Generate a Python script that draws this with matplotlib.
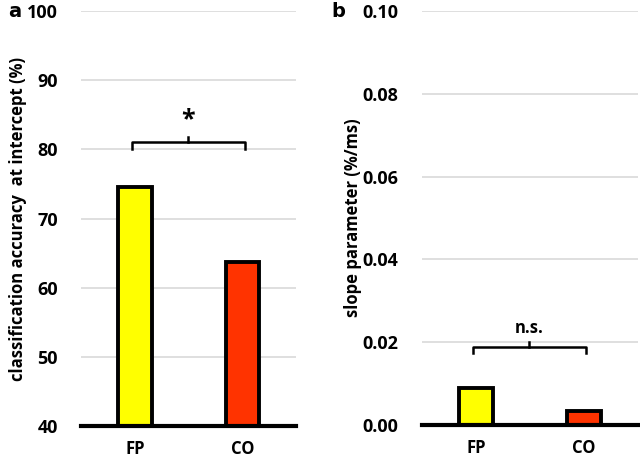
import numpy as np
import matplotlib.pyplot as plt

# datos
grupos = ['FP', 'CO']
colores = ['#FFFF00', '#FF3300']
precision = [74.5, 63.7]       # panel a (%)
pendiente = [0.0089, 0.0034]   # panel b (%/ms)

plt.rcParams['font.family'] = ['Open Sans', 'DejaVu Sans']
plt.rcParams['font.weight'] = 'bold'

fig = plt.figure(figsize=(6.4, 4.61), dpi=100)
ax1 = fig.add_axes([0.127, 0.076, 0.336, 0.9])
ax2 = fig.add_axes([0.659, 0.078, 0.338, 0.898])

x = np.arange(len(grupos))


def panel(ax, valores, ylim, ticks, fmt, ylabel, label_x, corchete_y, alto, texto, texto_size):
    ax.bar(x, np.array(valores) - ylim[0], bottom=ylim[0], width=0.31, color=colores,
           edgecolor='k', linewidth=2.8, zorder=3)
    ax.set_xlim(-0.5, 1.5)
    ax.set_ylim(*ylim)
    ax.set_yticks(ticks)
    ax.set_yticklabels([fmt.format(t) for t in ticks], fontsize=13, fontweight='bold')
    ax.set_xticks(x)
    ax.set_xticklabels(grupos, fontsize=12, fontweight='bold')
    ax.tick_params(length=0, axis='y', pad=17)
    ax.tick_params(length=0, axis='x', pad=10)
    ax.grid(axis='y', color='#d9d9d9', lw=1.2, zorder=0)
    for s in ['top', 'right', 'left']:
        ax.spines[s].set_visible(False)
    ax.spines['bottom'].set_linewidth(3)
    ax.spines['bottom'].set_zorder(4)
    ax.set_ylabel(ylabel, fontsize=12, fontweight='bold', va='center')
    ax.yaxis.set_label_coords(label_x, 0.5)
    # corchete de significancia
    x0, x1 = -0.03, 1.02
    xm = (x0 + x1) / 2
    ax.plot([x0, x0, x1, x1], [corchete_y - alto, corchete_y, corchete_y, corchete_y - alto],
            color='k', lw=1.8, zorder=5, clip_on=False)
    ax.plot([xm, xm], [corchete_y, corchete_y + alto * 0.9], color='k', lw=1.8, zorder=5)
    ax.text(xm, corchete_y + alto * 1.6, texto, ha='center', va='bottom',
            fontsize=texto_size, fontweight='bold')


panel(ax1, precision, (40, 100), [40, 50, 60, 70, 80, 90, 100], '{:.0f}',
      'classification accuracy  at intercept (%)', -0.295, 81.0, 0.9, '*', 18)
panel(ax2, pendiente, (0, 0.1), [0, 0.02, 0.04, 0.06, 0.08, 0.1], '{:.2f}',
      'slope parameter (%/ms)', -0.32, 0.0188, 0.0015, 'n.s.', 12)

fig.text(0.012, 0.975, 'a', fontsize=14, fontweight='bold', family='DejaVu Sans', va='center')
fig.text(0.517, 0.975, 'b', fontsize=14, fontweight='bold', family='DejaVu Sans', va='center')

plt.savefig('out.png', dpi=100)
plt.close()
